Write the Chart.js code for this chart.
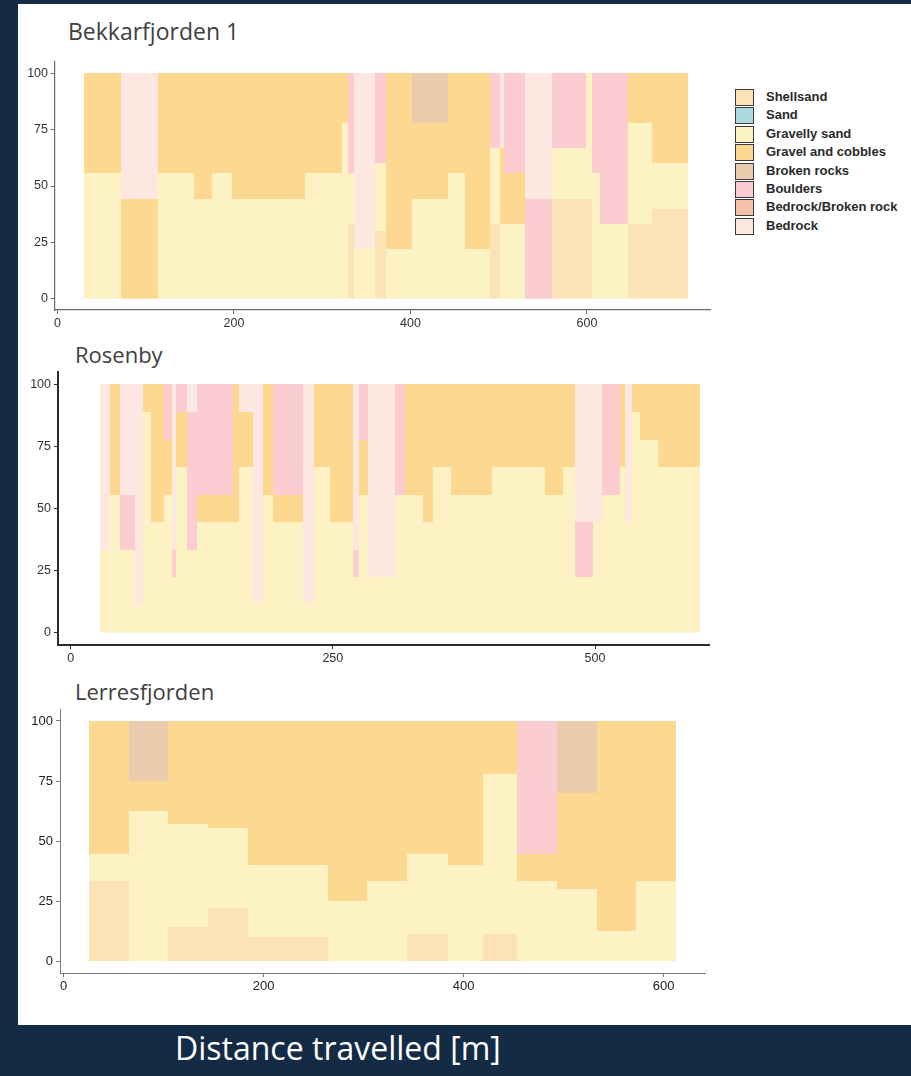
<!DOCTYPE html>
<html lang="en">
<head>
  <meta charset="UTF-8">
  <title>Substrate along transects</title>
  <script src="https://cdn.jsdelivr.net/npm/chart.js"></script>
  <style>
    html, body { margin: 0; padding: 0; }
    body {
      width: 911px;
      height: 1076px;
      background: #142b45;
      position: relative;
      overflow: hidden;
    }
    #panel {
      position: absolute;
      left: 18px;
      top: 4px;
      width: 893px;
      height: 1021px;
      background: #fff;
    }
    canvas { position: absolute; }
    .title {
      position: absolute;
      font-family: 'Open Sans', sans-serif;
      font-size: 22px;
      line-height: 22px;
      color: #404040;
      white-space: nowrap;
    }
    #legend { position: absolute; left: 735px; top: 89px; }
    .item { position: absolute; left: 0; height: 17px; }
    .swatch {
      position: absolute;
      left: 0;
      top: 0;
      width: 19px;
      height: 17px;
      box-sizing: border-box;
      border: 1.5px solid #3a3a3a;
    }
    .label {
      position: absolute;
      left: 31px;
      top: 0;
      line-height: 17px;
      font: bold 13px 'Liberation Sans', Arial, sans-serif;
      color: #2a2a2a;
      white-space: nowrap;
    }
    #xlabel {
      position: absolute;
      left: 175px;
      top: 1032px;
      font-family: 'Open Sans', sans-serif;
      font-size: 32px;
      line-height: 32px;
      color: #fff;
      white-space: nowrap;
    }
  </style>
</head>
<body>
  <div id="panel"></div>
  <div class="title" style="left:68px; top:20px; font-size:23px;">Bekkarfjorden 1</div>
  <div class="title" style="left:75px; top:343px;">Rosenby</div>
  <div class="title" style="left:75px; top:680px;">Lerresfjorden</div>
  <div id="legend"></div>
  <canvas id="bek" width="706" height="286" style="left:10px; top:50px;"></canvas>
  <canvas id="ros" width="702" height="311" style="left:13px; top:360px;"></canvas>
  <canvas id="ler" width="696" height="302" style="left:15px; top:697px;"></canvas>
  <div id="xlabel">Distance travelled [m]</div>

  <script>
    // substrate classes
    var classNames = ['Shellsand', 'Sand', 'Gravelly sand', 'Gravel and cobbles', 'Broken rocks', 'Boulders', 'Bedrock/Broken rock', 'Bedrock'];
    var classCodes = ['SS', 'SA', 'GS', 'GC', 'BR', 'BO', 'BB', 'BE'];
    var classColors = ['#fce3b6', '#abd9e0', '#fcf2c3', '#fdd890', '#ebcbad', '#fbcdd0', '#f6c2aa', '#fde8e1'];

    var yTicks = [0, 25, 50, 75, 100];
    var bekXTicks = [0, 200, 400, 600];
    var rosXTicks = [0, 250, 500];
    var lerXTicks = [0, 200, 400, 600];

    // distance (m) where each section starts, last value = end of transect
    var bekEdges = [30, 72, 113.5, 154.7, 174.7, 198, 280.5, 322, 329.5, 336.3, 359.8, 372.2, 401.4, 442.8,
      461.8, 490, 501.4, 506, 529.7, 560, 598.9, 605.3, 614.7, 646.8, 673.3, 714.8];
    // each section: layers from the bottom, [class, cumulative % top]
    var bekLayers = [
      [['GS', 55.6], ['GC', 100]],
      [['GC', 44.4], ['BE', 100]],
      [['GS', 55.6], ['GC', 100]],
      [['GS', 44.4], ['GC', 100]],
      [['GS', 55.6], ['GC', 100]],
      [['GS', 44.4], ['GC', 100]],
      [['GS', 55.6], ['GC', 100]],
      [['GS', 77.8], ['GC', 100]],
      [['SS', 33.3], ['GS', 55.6], ['BO', 100]],
      [['GS', 22.2], ['BE', 100]],
      [['SS', 30], ['GS', 60], ['BO', 100]],
      [['GS', 22.2], ['GC', 100]],
      [['GS', 44.4], ['GC', 77.8], ['BR', 100]],
      [['GS', 55.6], ['GC', 100]],
      [['GS', 22.2], ['GC', 100]],
      [['SS', 33.3], ['GS', 66.7], ['BO', 100]],
      [['GS', 33.3], ['GC', 66.7], ['BE', 100]],
      [['GS', 33.3], ['GC', 55.6], ['BO', 100]],
      [['BO', 44.4], ['BE', 100]],
      [['SS', 44.4], ['GS', 66.7], ['BO', 100]],
      [['SS', 44.4], ['GS', 100]],
      [['GS', 55.6], ['BO', 100]],
      [['GS', 33.3], ['BO', 100]],
      [['SS', 33.3], ['GS', 77.8], ['GC', 100]],
      [['SS', 40], ['GS', 60], ['GC', 100]]
    ];

    var rosEdges = [27.9, 37.5, 47.0, 61.3, 68.7, 76.6, 89.0, 96.3, 100.1, 110.6, 120.2, 155.1, 160.8, 174.1,
      183.7, 192.6, 221.8, 232.3, 247.3, 268.9, 275.2, 283.8, 309.3, 318.8, 335.7, 345.8, 362.4, 401.5,
      452.3, 469.8, 480.9, 498.4, 506.4, 523.9, 528.6, 535.0, 542.9, 560.4, 600.1];
    var rosLayers = [
      [['GS', 33.3], ['BE', 100]],
      [['GS', 55.6], ['GC', 100]],
      [['GS', 33.3], ['BO', 55.6], ['BE', 100]],
      [['GS', 11.1], ['BE', 100]],
      [['GS', 88.9], ['GC', 100]],
      [['GS', 44.4], ['GC', 100]],
      [['GS', 55.6], ['GC', 77.8], ['BO', 100]],
      [['GS', 22.2], ['BO', 33.3], ['BE', 100]],
      [['GS', 66.7], ['GC', 88.9], ['BO', 100]],
      [['GS', 33.3], ['BO', 88.9], ['BE', 100]],
      [['GS', 44.4], ['GC', 55.6], ['BO', 100]],
      [['GS', 44.4], ['GC', 100]],
      [['GS', 66.7], ['GC', 88.9], ['BE', 100]],
      [['GS', 12.5], ['BE', 100]],
      [['GS', 55.6], ['GC', 100]],
      [['GS', 44.4], ['GC', 55.6], ['BO', 100]],
      [['GS', 12.5], ['BE', 100]],
      [['GS', 66.7], ['GC', 100]],
      [['GS', 44.4], ['GC', 100]],
      [['GS', 22.2], ['BO', 33.3], ['BE', 100]],
      [['GS', 55.6], ['GC', 77.8], ['BO', 100]],
      [['GS', 22.2], ['BE', 100]],
      [['GS', 55.6], ['BO', 100]],
      [['GS', 55.6], ['GC', 100]],
      [['GS', 44.4], ['GC', 100]],
      [['GS', 66.7], ['GC', 100]],
      [['GS', 55.6], ['GC', 100]],
      [['GS', 66.7], ['GC', 100]],
      [['GS', 55.6], ['GC', 100]],
      [['GS', 66.7], ['GC', 100]],
      [['GS', 22.2], ['BO', 44.4], ['BE', 100]],
      [['GS', 44.4], ['BE', 100]],
      [['GS', 55.6], ['BO', 100]],
      [['GS', 66.7], ['GC', 100]],
      [['GS', 44.4], ['BE', 100]],
      [['GS', 88.9], ['GC', 100]],
      [['GS', 77.8], ['GC', 100]],
      [['GS', 66.7], ['GC', 100]]
    ];

    var lerEdges = [25.3, 65.3, 104.6, 144.6, 184.6, 264.6, 303.6, 343.6, 384, 419.6, 453, 493, 533, 572.3, 612];
    var lerLayers = [
      [['SS', 33.3], ['GS', 44.4], ['GC', 100]],
      [['GS', 62.5], ['GC', 75], ['BR', 100]],
      [['SS', 14.3], ['GS', 57.1], ['GC', 100]],
      [['SS', 22.2], ['GS', 55.6], ['GC', 100]],
      [['SS', 10], ['GS', 40], ['GC', 100]],
      [['GS', 25], ['GC', 100]],
      [['GS', 33.3], ['GC', 100]],
      [['SS', 11.1], ['GS', 44.4], ['GC', 100]],
      [['GS', 40], ['GC', 100]],
      [['SS', 11.1], ['GS', 77.8], ['GC', 100]],
      [['GS', 33.3], ['GC', 44.4], ['BO', 100]],
      [['GS', 30], ['GC', 70], ['BR', 100]],
      [['GS', 12.5], ['GC', 100]],
      [['GS', 33.3], ['GC', 100]]
    ];

    function colorOf(code) {
      return classColors[classCodes.indexOf(code)];
    }

    // one stepped line per layer level, filled down to the level below,
    // the fill colour changes per section through the segment options
    function buildDatasets(edges, layers) {
      var depth = Math.max.apply(null, layers.map(function (c) { return c.length; }));
      var sets = [];
      for (var k = 0; k < depth; k++) {
        (function (k) {
          var pts = layers.map(function (col, i) {
            return { x: edges[i], y: col[Math.min(k, col.length - 1)][1] };
          });
          pts.push({ x: edges[edges.length - 1], y: pts[pts.length - 1].y });
          sets.push({
            data: pts,
            stepped: true,
            fill: k === 0 ? 'origin' : '-1',
            borderWidth: 0,
            borderColor: 'rgba(0,0,0,0)',
            backgroundColor: 'rgba(0,0,0,0)',
            pointRadius: 0,
            pointHoverRadius: 0,
            segment: {
              backgroundColor: function (ctx) {
                var col = layers[ctx.p0DataIndex];
                return col && col[k] ? colorOf(col[k][0]) : 'rgba(0,0,0,0)';
              }
            }
          });
        })(k);
      }
      return sets;
    }

    // snap the computed points to whole pixels so neighbouring fills don't leave light seams
    var snapPixels = {
      id: 'snapPixels',
      afterDatasetsUpdate: function (chart) {
        chart.data.datasets.forEach(function (ds, i) {
          chart.getDatasetMeta(i).data.forEach(function (pt) {
            pt.x = Math.round(pt.x);
            pt.y = Math.round(pt.y);
          });
        });
      }
    };

    function makeChart(id, edges, layers, xTicks, xMin, xMax, look) {
      return new Chart(document.getElementById(id), {
        type: 'line',
        data: { datasets: buildDatasets(edges, layers) },
        plugins: [snapPixels],
        options: {
          responsive: false,
          animation: false,
          events: [],
          layout: { padding: { top: 12, right: 6, left: 0, bottom: 0 } },
          plugins: { legend: { display: false }, tooltip: { enabled: false } },
          scales: {
            x: {
              type: 'linear',
              min: xMin,
              max: xMax,
              afterBuildTicks: function (s) { s.ticks = xTicks.map(function (v) { return { value: v }; }); },
              afterFit: function (s) { s.height = 26; },
              grid: { drawOnChartArea: false, tickLength: 4, tickColor: look.axis },
              border: { color: look.axis, width: look.xw },
              ticks: { color: look.text, font: { family: 'Liberation Sans', size: look.size }, padding: 2, maxRotation: 0 }
            },
            y: {
              type: 'linear',
              min: -5,
              max: 105,
              afterBuildTicks: function (s) { s.ticks = yTicks.map(function (v) { return { value: v }; }); },
              afterFit: function (s) { s.width = 45; },
              grid: { drawOnChartArea: false, tickLength: 4, tickColor: look.axis },
              border: { color: look.axis, width: look.yw },
              ticks: { color: look.text, font: { family: 'Liberation Sans', size: look.size }, padding: 3 }
            }
          }
        }
      });
    }

    makeChart('bek', bekEdges, bekLayers, bekXTicks, -2.8, 739.4,
      { axis: '#6b6b6b', text: '#333', size: 12.5, xw: 1.2, yw: 1.2 });
    makeChart('ros', rosEdges, rosLayers, rosXTicks, -12.1, 608.7,
      { axis: '#2a2a2a', text: '#333', size: 12.5, xw: 2, yw: 2 });
    makeChart('ler', lerEdges, lerLayers, lerXTicks, -3.7, 641.3,
      { axis: '#7a7a7a', text: '#222', size: 13, xw: 1, yw: 1 });

    // legend
    var legend = document.getElementById('legend');
    classNames.forEach(function (name, i) {
      var row = document.createElement('div');
      row.className = 'item';
      row.style.top = (i * 18.4) + 'px';
      var sw = document.createElement('span');
      sw.className = 'swatch';
      sw.style.background = classColors[i];
      var lb = document.createElement('span');
      lb.className = 'label';
      lb.textContent = name;
      row.appendChild(sw);
      row.appendChild(lb);
      legend.appendChild(row);
    });
  </script>
</body>
</html>
